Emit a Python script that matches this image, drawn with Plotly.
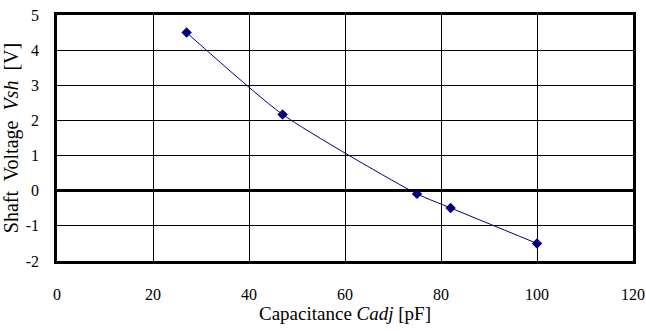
import plotly.graph_objects as go

capacitance = [27, 47, 75, 82, 100]
voltage = [4.5, 2.17, -0.09, -0.49, -1.5]
x_ticks = [0, 20, 40, 60, 80, 100, 120]
y_ticks = [-2, -1, 0, 1, 2, 3, 4, 5]
y_tick_text = [str(v) for v in y_ticks]

fig = go.Figure()
fig.add_trace(go.Scatter(
    x=capacitance, y=voltage, mode="lines+markers",
    line=dict(color="#000080", width=1, shape="spline", smoothing=0.6),
    marker=dict(symbol="diamond", size=8, color="#000080"),
    showlegend=False,
))

font = "Times New Roman, Liberation Serif, DejaVu Serif, serif"
fig.update_layout(
    width=646, height=331,
    margin=dict(l=57, r=13, t=15, b=70),
    paper_bgcolor="white", plot_bgcolor="white",
    font=dict(family=font, size=16, color="black"),
    xaxis=dict(
        range=[0, 120], tickvals=x_ticks, showgrid=True, gridcolor="black", gridwidth=1,
        showline=True, mirror=True, linecolor="black", linewidth=2.5,
        zeroline=False, ticks="", ticklabelstandoff=17, automargin=False,
        title=dict(text="Capacitance <i>Cadj</i> [pF]", font=dict(size=19), standoff=2),
    ),
    yaxis=dict(
        range=[-2, 5], tickvals=y_ticks, ticktext=y_tick_text, showgrid=True, gridcolor="black", gridwidth=1,
        showline=True, mirror=True, linecolor="black", linewidth=2.5,
        zeroline=True, zerolinecolor="black", zerolinewidth=3, ticks="", ticklabelstandoff=12,
        automargin=False,
        title=dict(text="Shaft&nbsp; Voltage&nbsp; <i>Vsh</i>&nbsp; [V]", font=dict(size=20), standoff=4),
    ),
)
fig.write_html(
    "out.html",
    config={"displayModeBar": False},
    post_script="document.body.style.margin='0';document.body.style.padding='0';",
)
